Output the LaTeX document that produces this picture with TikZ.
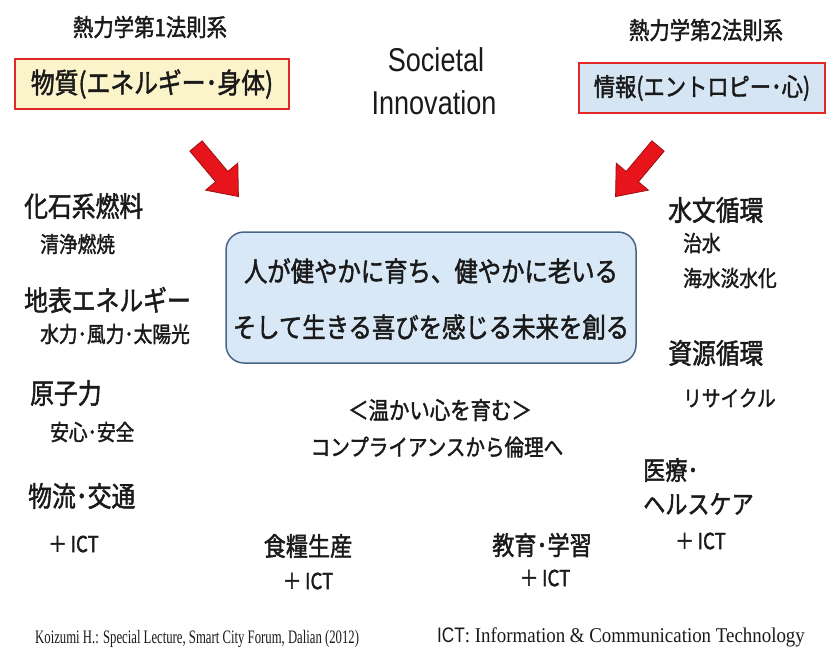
\documentclass[tikz,border=0pt]{standalone}
\usepackage{fontspec}
\newfontfamily\jp[FakeStretch=0.85,FakeBold=1.6]{Noto Sans CJK JP}
\newfontfamily\lsans[FakeStretch=0.82]{Liberation Sans}
\newfontfamily\lserif[FakeStretch=0.67]{Liberation Serif}
\newfontfamily\lserifb[FakeStretch=0.9]{Liberation Serif}
\definecolor{txt}{HTML}{1A1A1A}
\definecolor{boxred}{HTML}{E02828}
\definecolor{yel}{HTML}{FBF3C9}
\definecolor{lblue}{HTML}{D5E5F3}
\definecolor{cblue}{HTML}{D9E8F6}
\definecolor{cborder}{HTML}{4A6486}
\definecolor{arrred}{HTML}{E8141C}
\definecolor{arrdark}{HTML}{9A1010}
\tikzset{
  every node/.style={text=txt, inner sep=0pt},
  big/.style={font=\jp\fontsize{28}{32}\selectfont},
  mid/.style={font=\jp\fontsize{26}{30}\selectfont},
  small/.style={font=\jp\fontsize{22}{26}\selectfont},
  title/.style={font=\jp\fontsize{24}{28}\selectfont},
  lawbox/.style={draw=boxred, line width=2pt, minimum height=50pt},
  redarrow/.style={fill=arrred, draw=arrdark, line width=0.8pt, line join=miter},
}
\begin{document}
\begin{tikzpicture}[x=1pt,y=-1pt]
\useasboundingbox[fill=white] (0,0) rectangle (834,657);

% top titles
\node[title] (t1) at (150,27) {熱力学第1法則系};
\node[title] (t2) at (706,30) {熱力学第2法則系};
\node[lawbox, fill=yel, minimum width=274pt, font=\jp\fontsize{28}{30}\selectfont] (b1) at (152,84) {物質(エネルギー･身体)};
\node[lawbox, fill=lblue, minimum width=246pt, font=\jp\fontsize{25}{28}\selectfont] (b2) at (702,88) {情報(エントロピー･心)};

\node[font=\lsans\fontsize{33}{36}\selectfont] (soc) at (436,60) {Societal};
\node[font=\lsans\fontsize{33}{36}\selectfont] (inn) at (434,103) {Innovation};

% red arrows
\begin{scope}[shift={(196,146)}, rotate=-50]
  \draw[redarrow] (0,-8) -- (40,-8) -- (40,-21) -- (66,0) -- (40,21) -- (40,8) -- (0,8) -- cycle;
\end{scope}
\begin{scope}[shift={(658,146)}, rotate=-130]
  \draw[redarrow] (0,-8) -- (40,-8) -- (40,-21) -- (66,0) -- (40,21) -- (40,8) -- (0,8) -- cycle;
\end{scope}

% central box
\node[draw=cborder, line width=1.5pt, fill=cblue, rounded corners=18pt,
      minimum width=410pt, minimum height=131pt] (c) at (431,297.5) {};
\node[font=\jp\fontsize{27.5}{30}\selectfont] (c1) at (431,271) {人が健やかに育ち、健やかに老いる};
\node[font=\jp\fontsize{27.5}{30}\selectfont] (c2) at (431,327) {そして生きる喜びを感じる未来を創る};

% left column
\node[big, anchor=west] (l1) at (24,206) {化石系燃料};
\node[small, anchor=west] (l1s) at (40,244) {清浄燃焼};
\node[big, anchor=west] (l2) at (24,300) {地表エネルギー};
\node[small, anchor=west] (l2s) at (40,334) {水力･風力･太陽光};
\node[big, anchor=west] (l3) at (30,393) {原子力};
\node[small, anchor=west] (l3s) at (50,432) {安心･安全};
\node[big, anchor=west] (l4) at (28,496) {物流･交通};
\node[small, anchor=west] (l4s) at (48,544) {＋\,ICT};

% middle
\node[font=\jp\fontsize{24}{28}\selectfont] (m1) at (440,410) {＜温かい心を育む＞};
\node[font=\jp\fontsize{23}{28}\selectfont] (m2) at (437,447) {コンプライアンスから倫理へ};
\node[mid] (f1) at (308,546) {食糧生産};
\node[small] (f2) at (308,581) {＋\,ICT};
\node[mid] (e1) at (542,545) {教育･学習};
\node[small] (e2) at (545,578) {＋\,ICT};

% right column
\node[big, anchor=west] (r1) at (668,210) {水文循環};
\node[small, anchor=west] (r1a) at (683,243) {治水};
\node[small, anchor=west] (r1b) at (683,278) {海水淡水化};
\node[big, anchor=west] (r2) at (668,353) {資源循環};
\node[small, anchor=west] (r2s) at (683,398) {リサイクル};
\node[mid, anchor=west] (r3) at (643,470) {医療･};
\node[mid, anchor=west] (r3b) at (643,504) {ヘルスケア};
\node[small, anchor=west] (r3s) at (675,541) {＋\,ICT};

% footer
\node[font=\lserif\fontsize{19}{22}\selectfont, anchor=west] (ref) at (35,639) {Koizumi H.: Special Lecture, Smart City Forum, Dalian (2012)};
\node[anchor=west] (ict) at (437,637) {{\lsans\fontsize{21}{24}\selectfont ICT}{\lserifb\fontsize{21}{24}\selectfont: Information \& Communication Technology}};
\end{tikzpicture}
\end{document}
